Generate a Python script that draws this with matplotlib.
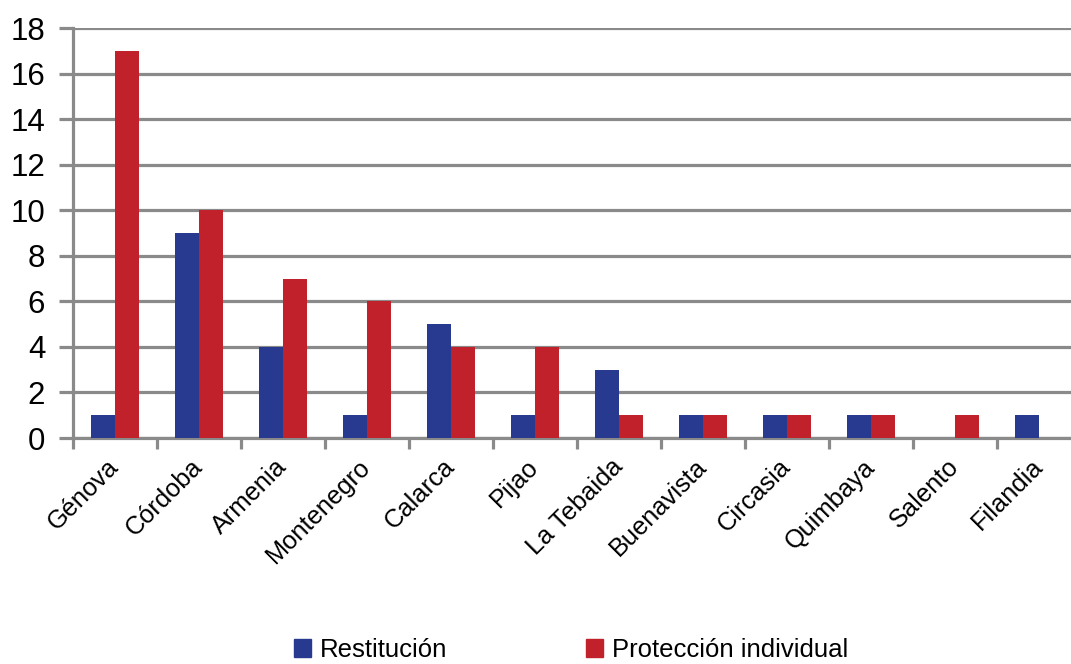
import matplotlib
matplotlib.use("Agg")
import matplotlib.pyplot as plt
import numpy as np
from matplotlib.patches import Patch

categories = ["Génova", "Córdoba", "Armenia", "Montenegro", "Calarca", "Pijao",
              "La Tebaida", "Buenavista", "Circasia", "Quimbaya", "Salento", "Filandia"]
restitucion = [1, 9, 4, 1, 5, 1, 3, 1, 1, 1, 0, 1]
proteccion = [17, 10, 7, 6, 4, 4, 1, 1, 1, 1, 1, 0]
series_names = ["Restitución", "Protección individual"]
yticks = [0, 2, 4, 6, 8, 10, 12, 14, 16, 18]

blue = "#283A8F"
red = "#C1212A"
grid = "#8A8A8A"

plt.rcParams['font.family'] = ['Liberation Sans', 'DejaVu Sans']

W, H = 1071, 664
fig = plt.figure(figsize=(W/100, H/100), dpi=100)
left, right, top, bottom = 73, 1081, 28, 438
ax = fig.add_axes([left/W, 1 - bottom/H, (right-left)/W, (bottom-top)/H])

x = np.arange(len(categories))
bw = 24/84
ax.bar(x - bw/2, restitucion, width=bw, color=blue, zorder=3)
ax.bar(x + bw/2, proteccion, width=bw, color=red, zorder=3)

ax.set_xlim(-0.5, len(categories) - 0.5)
ax.set_ylim(0, 18)
ax.set_yticks(yticks)
ax.yaxis.grid(True, color=grid, linewidth=2.3, zorder=0)
ax.set_axisbelow(True)
for s in ["top", "right"]:
    ax.spines[s].set_visible(False)
for s in ["left", "bottom"]:
    ax.spines[s].set_color(grid)
    ax.spines[s].set_linewidth(2.3)
ax.tick_params(axis='y', direction='out', length=10, width=2.3, color=grid,
               labelsize=22.5, pad=10)
ax.set_xticks(np.arange(len(categories) + 1) - 0.5)
ax.set_xticklabels([])
ax.set_xticks(x, minor=True)
ax.set_xticklabels(categories, minor=True, rotation=45, ha='right',
                   rotation_mode='anchor', fontsize=18.3)
ax.tick_params(axis='x', which='major', direction='out', length=8, width=2.3, color=grid)
ax.tick_params(axis='x', which='minor', length=0, pad=18)
for lab in ax.get_xticklabels(minor=True):
    lab.set_va('center')

handles = [Patch(color=blue), Patch(color=red)]
fig.legend(handles, series_names, loc='center', bbox_to_anchor=(571/W, 1 - 650/H),
           ncol=2, frameon=False, fontsize=18.5, handlelength=0.65, handleheight=0.65,
           handletextpad=0.35, columnspacing=5.4)

fig.savefig("out.png", dpi=100)
